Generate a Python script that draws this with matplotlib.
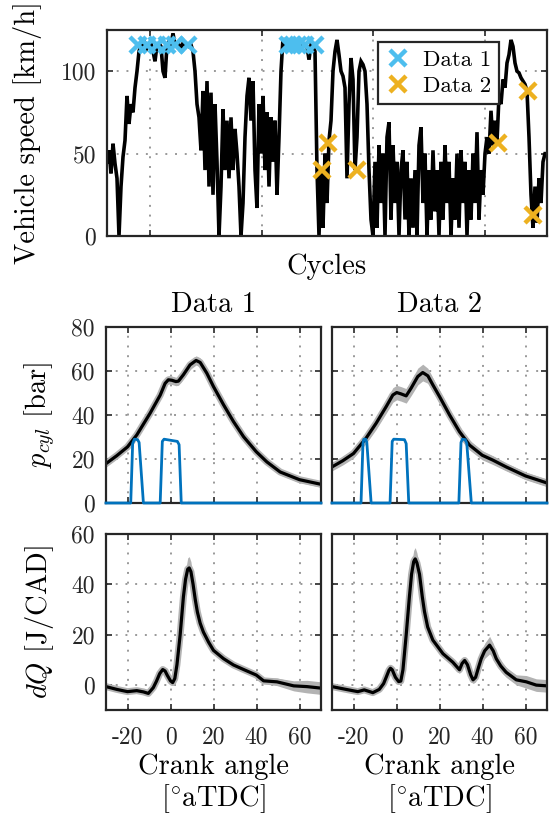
import numpy as np
import matplotlib
matplotlib.use('Agg')
import matplotlib.pyplot as plt

plt.rcParams.update({
    'font.family': 'serif',
    'font.serif': ['cmr10'],
    'mathtext.fontset': 'cm',
    'axes.unicode_minus': False,
})

# ---- data ----
# vehicle speed trace, one sample every ~18 cycles
speed = [45, 52, 38, 56, 44, 35, 0, 30, 48, 58, 85, 68, 80, 75, 90, 100, 112, 116, 115, 117,
         114, 116, 117, 112, 106, 116, 117, 115, 100, 96, 116, 118, 116, 123, 116, 115, 116, 114, 117, 116,
         116, 115, 116, 112, 100, 80, 72, 52, 88, 40, 94, 30, 87, 25, 80, 45, 0, 30, 77, 40,
         70, 35, 72, 40, 65, 50, 30, 0, 20, 60, 85, 96, 70, 94, 40, 17, 80, 50, 85, 40,
         75, 30, 72, 45, 70, 25, 60, 100, 120, 116, 116, 117, 115, 116, 116, 116, 114, 116, 117, 116,
         115, 107, 116, 115, 112, 40, 0, 40, 5, 50, 20, 58, 70, 100, 112, 119, 110, 100, 97, 90,
         35, 80, 108, 95, 40, 60, 100, 106, 104, 100, 80, 40, 10, 0, 45, 5, 55, 20, 50, 0,
         60, 69, 10, 55, 20, 45, 0, 40, 52, 10, 45, 0, 35, 5, 40, 0, 55, 66, 20, 50,
         0, 40, 10, 52, 15, 40, 0, 45, 10, 55, 20, 45, 0, 35, 10, 50, 5, 52, 20, 45,
         0, 40, 10, 50, 20, 63, 10, 40, 25, 50, 60, 50, 76, 55, 70, 57, 85, 80, 95, 90,
         105, 110, 119, 115, 105, 100, 99, 96, 94, 92, 88, 60, 25, 5, 30, 8, 35, 20, 45, 50,
         50]
cycle_range = (615, 4555)
cycle_ticks = [1000, 2000, 3000, 4000]

sel1_cycles = [895, 970, 1060, 1150, 1224, 1343, 2239, 2283, 2328, 2388, 2478]
sel1_speed = [116, 116, 116, 116, 116, 116, 116, 116, 116, 116, 116]
sel2_cycles = [2538, 2597, 2851, 4119, 4388, 4433]
sel2_speed = [40, 56.5, 40, 56.5, 88, 13]

# cylinder pressure [bar]
ca_p1 = [-30, -25, -20, -15.7, -9.5, -4.8, -2.5, -1, 0.6, 2.5, 3.7, 6, 9.1, 11.9, 13.8, 16.9,
         20, 24.7, 29.3, 34, 39.9, 44.8, 51, 60, 70]
p1 = [17.9, 21.5, 25.5, 30.9, 40.8, 49, 54.4, 56, 55.8, 55.2, 55.4, 58.3, 62.8, 64.8, 63.9, 59,
      52.9, 44.6, 37, 30.1, 23.3, 18.7, 14.1, 10.6, 8.5]
p1_spread = [1.3, 1.3, 1.3, 1.3, 1.4, 1.6, 1.7, 1.9, 1.9, 1.9, 1.9, 1.9, 2.1, 2.1, 2.1, 1.9,
             1.6, 1.5, 1.4, 1.3, 1.3, 1.3, 1.3, 1.3, 1.3]

ca_p2 = [-30, -25, -20, -14.2, -9.5, -4.8, -1.7, 0.1, 2.1, 4.5, 6.8, 9.9, 12.2, 14.6, 16.9,
         20, 24.7, 29.3, 34, 39.9, 44.8, 51, 60, 70]
p2 = [16.4, 19.2, 22.5, 29.4, 36.2, 43.8, 49.1, 50.2, 49.6, 48.7, 52.2, 57.5, 59.3, 57.8, 53.7,
      48.4, 40, 32.4, 26.3, 21.7, 19.5, 16.4, 12.3, 9.1]
p2_spread = [1.8, 1.9, 2.1, 2.4, 2.8, 3, 3.3, 3.3, 3.3, 3.3, 3.4, 3.8, 3.8, 3.4, 3.2,
             2.8, 2.6, 2.3, 2.2, 2.1, 2, 1.8, 1.7, 1.7]

# injection signal
ca_inj1 = [-30, -18.5, -17.6, -16.8, -15.3, -14.6, -12.6, -4.8, -3.8, -3, 3.2, 4, 5, 70]
inj1 = [0, 0, 27, 29, 28.8, 27.5, 0, 0, 28, 29, 28, 26.5, 0, 0]
ca_inj2 = [-30, -16.5, -15.6, -15.2, -14.3, -13.8, -11.8, -3, -2, -1.3, 3.7, 4.5, 5.7,
           29, 30, 30.6, 32, 32.7, 34.8, 70]
inj2 = [0, 0, 27, 29, 29, 27.5, 0, 0, 28, 29, 28.8, 27, 0,
        0, 27.5, 29, 28.8, 27, 0, 0]

# heat release rate [J/CAD]
ca_q1 = [-30, -25, -20, -15.7, -12.6, -10.3, -8, -6.5, -5, -3.6, -2.5, -1.5, 0, 1, 2, 3,
         4.5, 6, 7, 8, 8.7, 9.5, 10.5, 11.5, 12.5, 13.8, 15.3, 17.7, 20, 24.7, 29.3, 34,
         39.9, 43.3, 49.5, 57.3, 63.5, 70]
q1 = [-0.7, -1.8, -2.7, -2.3, -2.8, -3.4, -1.1, 1.5, 4.5, 6.1, 5.5, 3.8, 1.6, 0.9, 2.5, 8,
      20, 35, 42, 46, 46.5, 45, 40, 34, 29, 24.5, 21, 17, 13.7, 10.4, 7.9, 6.1,
      3.9, 1.6, 1.2, -0.4, -0.7, -1.3]
q1_spread = [0.8, 0.8, 0.8, 0.8, 0.8, 0.8, 0.8, 1, 1.2, 1.3, 1.2, 1, 1, 1, 1, 1.2,
             1.5, 2.5, 3.5, 4.5, 4.5, 4, 3, 2.5, 2, 1.5, 1.5, 1.2, 1.2, 1.1, 1, 1,
             1, 1.2, 1.5, 2, 2.5, 2.5]

ca_q2 = [-30, -23.5, -18, -15, -11, -8, -6, -4.8, -3.5, -2.8, -2, -0.5, 1, 2, 3, 4.5, 6,
         7, 8, 8.7, 9.5, 10.7, 12, 13, 14.5, 16.9, 21.6, 26.2, 29.3, 30.5, 31.7, 33, 34.5,
         35.6, 36.8, 38, 39.4, 41, 43.3, 45, 46.4, 48.5, 51, 55.7, 60.4, 65, 70]
q2 = [-0.7, -1.8, -2.7, -2, -3.1, -1.8, 0.5, 3, 5.8, 6.6, 6, 3, 1.3, 1.5, 6, 19.8, 35,
      44, 49, 50.1, 48.5, 44, 35, 29.2, 23, 17.8, 12.4, 9, 6, 8.5, 9.7, 8, 4,
      2, 3, 6.5, 10.4, 13.5, 15.8, 13.5, 10.4, 7.5, 5, 2, 1.2, -0.1, -0.4]
q2_spread = [0.8, 0.8, 0.8, 0.8, 0.8, 0.8, 0.9, 1, 1.2, 1.2, 1.2, 1, 1, 1, 1.2, 2, 3,
             4, 4.5, 4.5, 4, 3, 2.5, 2, 1.8, 1.5, 1.5, 1.5, 1.5, 1.5, 1.5, 1.5, 1.5,
             1.5, 1.8, 2, 2.5, 3, 3.5, 3, 2.5, 2.2, 2, 2, 2.5, 2.5, 2.5]

ca_ticks = [-20, 0, 20, 40, 60]
ca_labels = ['-20', '0', '20', '40', '60']

# ---- style ----
FRAME = '#262626'
GRAY = '#b3b3b3'
BLUE_LIGHT = '#4DBEEE'
ORANGE = '#EDB120'
BLUE = '#0072BD'
TICK_FS = 17
LABEL_FS = 20.5


def style_axes(ax):
    for s in ax.spines.values():
        s.set_color(FRAME)
        s.set_linewidth(1.6)
    ax.tick_params(direction='in', length=4, width=1.2, color=FRAME,
                   top=True, right=True, labelsize=TICK_FS, labelcolor='#262626')
    ax.tick_params(axis='y', pad=8)
    ax.tick_params(axis='x', pad=12)
    ax.grid(True, color='#999999', linestyle=(0, (1, 4)), linewidth=1.4)
    ax.set_axisbelow(True)


fig = plt.figure(figsize=(5.51, 8.23), dpi=100)
W, H = 551.0, 823.0


def px_axes(x0, y0, x1, y1):
    return fig.add_axes([x0 / W, 1 - y1 / H, (x1 - x0) / W, (y1 - y0) / H])


# top: vehicle speed
ax0 = px_axes(107, 30, 547, 236)
cycles = np.linspace(cycle_range[0], cycle_range[1], len(speed))
ax0.plot(cycles, speed, color='k', lw=2.6, solid_joinstyle='miter')
ax0.plot(sel1_cycles, sel1_speed, 'x', color=BLUE_LIGHT, ms=12, mew=3.2, label='Data 1')
ax0.plot(sel2_cycles, sel2_speed, 'x', color=ORANGE, ms=12, mew=3.2, label='Data 2')
ax0.set_xlim(*cycle_range)
ax0.set_ylim(0, 125)
ax0.set_xticks(cycle_ticks)
ax0.set_xticklabels([])
ax0.set_yticks([0, 50, 100])
style_axes(ax0)
ax0.set_xlabel('Cycles', fontsize=LABEL_FS)
ax0.xaxis.set_label_coords(0.5, -0.085)
ax0.set_ylabel('Vehicle speed [km/h]', fontsize=LABEL_FS)
ax0.yaxis.set_label_coords(-0.148, 0.5)
leg = ax0.legend(loc='upper right', bbox_to_anchor=(0.891, 0.942), borderaxespad=0,
                 fontsize=16.5, frameon=True, fancybox=False, edgecolor=FRAME, framealpha=1,
                 handlelength=1.0, handletextpad=0.6, borderpad=0.35, labelspacing=0.25)
leg.get_frame().set_linewidth(1.6)

# pressure panels
panels_p = [
    (px_axes(106, 327, 321, 503), ca_p1, p1, p1_spread, ca_inj1, inj1, 'Data 1'),
    (px_axes(332, 327, 547, 503), ca_p2, p2, p2_spread, ca_inj2, inj2, 'Data 2'),
]
for i, (ax, ca, p, sp, cai, inj, title) in enumerate(panels_p):
    p = np.array(p)
    sp = np.array(sp)
    ax.fill_between(ca, p - sp, p + sp, color=GRAY, lw=0)
    ax.plot(ca, p, color=GRAY, lw=5)
    ax.plot(cai, inj, color=BLUE, lw=2.0, clip_on=False, zorder=3)
    ax.plot(ca, p, color='k', lw=2.3)
    ax.set_xlim(-30, 70)
    ax.set_ylim(0, 80)
    ax.set_xticks(ca_ticks)
    ax.set_xticklabels([])
    ax.set_yticks([0, 20, 40, 60, 80])
    style_axes(ax)
    ax.set_title(title, fontsize=LABEL_FS, pad=11)
    if i == 0:
        ax.set_ylabel(r'$p_{cyl}$ [bar]', fontsize=LABEL_FS)
        ax.yaxis.set_label_coords(-0.228, 0.5)
    else:
        ax.set_yticklabels([])

# heat release panels
panels_q = [
    (px_axes(106, 534, 321, 710), ca_q1, q1, q1_spread),
    (px_axes(332, 534, 547, 710), ca_q2, q2, q2_spread),
]
for i, (ax, ca, q, sp) in enumerate(panels_q):
    q = np.array(q)
    sp = np.array(sp)
    ax.fill_between(ca, q - sp, q + sp, color=GRAY, lw=0)
    ax.plot(ca, q, color=GRAY, lw=5)
    ax.plot(ca, q, color='k', lw=2.3)
    ax.set_xlim(-30, 70)
    ax.set_ylim(-10, 60)
    ax.set_xticks(ca_ticks)
    ax.set_xticklabels(ca_labels)
    ax.set_yticks([0, 20, 40, 60])
    style_axes(ax)
    ax.set_xlabel('Crank angle\n' + r'[$^{\circ}$aTDC]', fontsize=LABEL_FS, linespacing=1.1)
    ax.xaxis.set_label_coords(0.5, -0.245)
    if i == 0:
        ax.set_ylabel(r'$dQ$ [J/CAD]', fontsize=LABEL_FS)
        ax.yaxis.set_label_coords(-0.233, 0.5)
    else:
        ax.set_yticklabels([])

fig.savefig('out.png', dpi=100)
